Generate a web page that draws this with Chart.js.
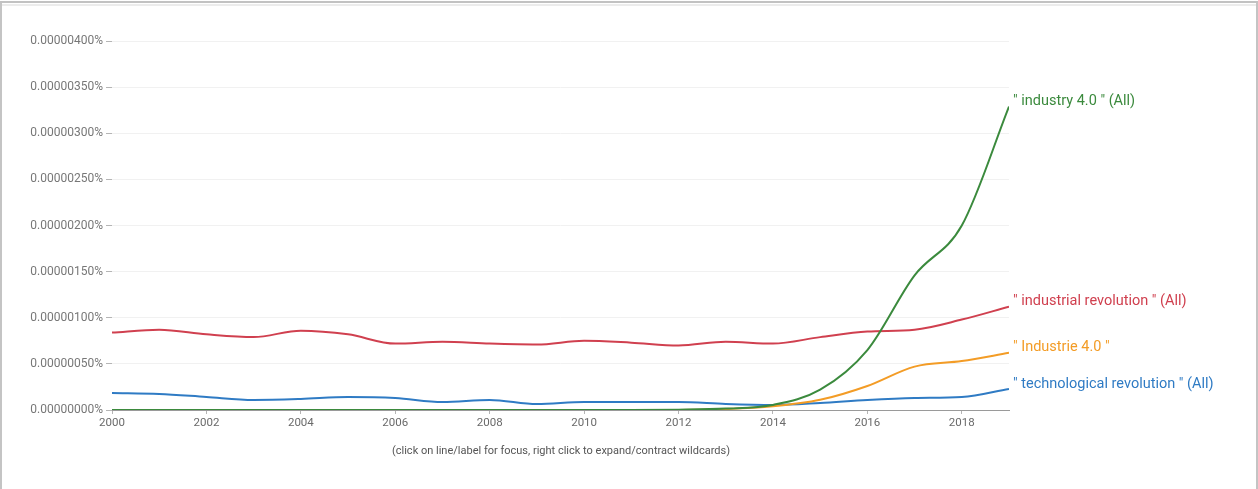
<!DOCTYPE html>
<html>
<head>
<meta charset="utf-8">
<script src="https://cdn.jsdelivr.net/npm/chart.js@4/dist/chart.umd.min.js"></script>
<style>
  html, body { margin: 0; padding: 0; background: #fff; }
  #wrap { position: relative; width: 1258px; height: 489px; overflow: hidden; }
  #chart { position: absolute; left: 0; top: 0; }
  .frame-top { position: absolute; left: 0; top: 1px; width: 1258px; height: 2px; background: #c2c2c2; }
  .frame-top2 { position: absolute; left: 0; top: 4px; width: 1258px; height: 2px; background: #ececec; }
  .frame-left { position: absolute; left: 0; top: 3px; width: 2px; height: 486px; background: #c4c4c4; }
  .frame-right { position: absolute; right: 0; top: 3px; width: 2px; height: 486px; background: #c4c4c4; }
  .note { position: absolute; left: 0; width: 1122px; top: 444px; text-align: center;
          font: 11px Roboto, sans-serif; color: #555; }
</style>
</head>
<body>
<div id="wrap">
  <canvas id="chart" width="1258" height="489"></canvas>
  <div class="frame-top"></div>
  <div class="frame-top2"></div>
  <div class="frame-left"></div>
  <div class="frame-right"></div>
  <div class="note">(click on line/label for focus, right click to expand/contract wildcards)</div>
</div>
<script>
// Ngram-style chart: frequency of phrases 2000-2019

const years = [2000, 2001, 2002, 2003, 2004, 2005, 2006, 2007, 2008, 2009,
               2010, 2011, 2012, 2013, 2014, 2015, 2016, 2017, 2018, 2019];

const xTicks = [2000, 2002, 2004, 2006, 2008, 2010, 2012, 2014, 2016, 2018];
const yTicks = [0, 0.0000005, 0.000001, 0.0000015, 0.000002, 0.0000025, 0.000003, 0.0000035, 0.000004];

const seriesLabels = [
  '" industry 4.0 " (All)',
  '" industrial revolution " (All)',
  '" Industrie 4.0 "',
  '" technological revolution " (All)'
];
const seriesColors = ['#3b8a3d', '#d0404f', '#f39c26', '#2f7bc4'];

const industry40 = [0, 0, 0, 0, 0, 0, 0, 0, 0, 0,
  0, 0, 0.000000003, 0.000000015, 0.000000055, 0.00000022, 0.00000065, 0.00000146, 0.000002, 0.00000329];

const industrialRevolution = [0.00000084, 0.00000087, 0.00000082, 0.00000079, 0.00000086, 0.00000082,
  0.00000072, 0.00000074, 0.00000072, 0.00000071, 0.00000075, 0.00000073, 0.0000007, 0.00000074,
  0.00000072, 0.00000079, 0.00000085, 0.00000087, 0.00000098, 0.00000112];

const industrie40 = [0, 0, 0, 0, 0, 0, 0, 0, 0, 0,
  0, 0, 0, 0.00000001, 0.00000004, 0.00000011, 0.00000026, 0.00000047, 0.00000053, 0.00000062];

const technologicalRevolution = [0.000000185, 0.000000174, 0.000000141, 0.000000109, 0.00000012,
  0.000000141, 0.00000013, 0.000000087, 0.000000109, 0.000000065, 0.000000087, 0.000000087,
  0.000000087, 0.000000065, 0.000000054, 0.000000076, 0.000000109, 0.00000013, 0.000000141, 0.000000228];

const allSeries = [industry40, industrialRevolution, industrie40, technologicalRevolution];

// draw series names at the end of each line
const endLabels = {
  id: 'endLabels',
  afterDatasetsDraw(chart) {
    const ctx = chart.ctx;
    ctx.save();
    ctx.font = '14.5px Roboto, sans-serif';
    ctx.textBaseline = 'middle';
    ctx.textAlign = 'left';
    chart.data.datasets.forEach((ds, i) => {
      const pts = chart.getDatasetMeta(i).data;
      const last = pts[pts.length - 1];
      ctx.fillStyle = ds.borderColor;
      ctx.fillText(ds.label, last.x + 4, last.y - 5);
    });
    ctx.restore();
  }
};

const datasets = allSeries.map((vals, i) => ({
  label: seriesLabels[i],
  data: years.map((y, j) => ({ x: y, y: vals[j] })),
  borderColor: seriesColors[i],
  backgroundColor: seriesColors[i],
  borderWidth: 2,
  pointRadius: 0,
  cubicInterpolationMode: 'monotone',
  fill: false
}));

new Chart(document.getElementById('chart'), {
  type: 'line',
  data: { datasets },
  plugins: [endLabels],
  options: {
    responsive: false,
    animation: false,
    layout: { padding: { left: 0, right: 249, top: 41, bottom: 0 } },
    plugins: { legend: { display: false }, tooltip: { enabled: false } },
    scales: {
      x: {
        type: 'linear',
        min: 2000,
        max: 2019,
        afterBuildTicks: s => { s.ticks = xTicks.map(v => ({ value: v })); },
        afterFit: s => { s.height = 79; },
        border: { display: true, color: '#9a9a9a', width: 1 },
        grid: { drawOnChartArea: false, tickLength: 4, tickColor: '#b5b5b5' },
        ticks: { color: '#6a6a6a', padding: 2, font: { family: 'Roboto', size: 11.5 }, callback: v => String(v) }
      },
      y: {
        min: 0,
        max: 0.000004,
        afterBuildTicks: s => { s.ticks = yTicks.map(v => ({ value: v })); },
        afterFit: s => { s.width = 112; },
        border: { display: false },
        grid: { color: '#f1f1f1', tickLength: 6, tickColor: '#b5b5b5' },
        ticks: { color: '#777', padding: 3, font: { family: 'Roboto', size: 12 }, callback: v => v.toFixed(8) + '%' }
      }
    }
  }
});
</script>
</body>
</html>
